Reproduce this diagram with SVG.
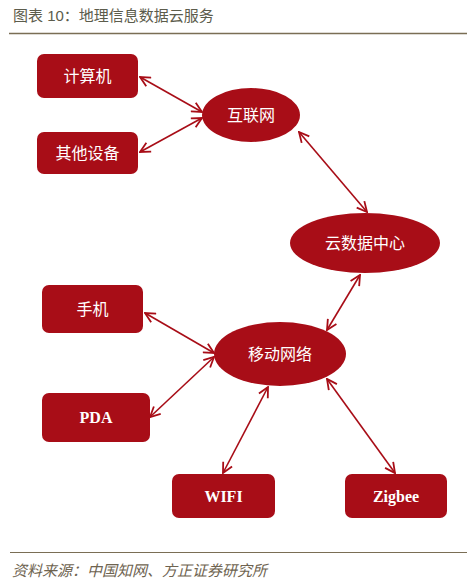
<svg xmlns="http://www.w3.org/2000/svg" width="467" height="580" viewBox="0 0 467 580">
<style>
.box{fill:#a80d17;}
.ell{fill:#a80d17;}
.cj{font-family:"Liberation Sans","Noto Sans CJK SC",sans-serif;font-size:16px;fill:#ffffff;text-anchor:middle;}
.en{font-family:"Liberation Serif",serif;font-size:16px;font-weight:bold;fill:#ffffff;text-anchor:middle;}
.con{stroke:#a80d17;stroke-width:1.6;fill:none;marker-start:url(#ah);marker-end:url(#ah);}
.title{font-family:"Liberation Sans","Noto Sans CJK SC",sans-serif;font-size:15px;fill:#5c5c4c;}
.foot{font-family:"Liberation Sans","Noto Sans CJK SC",sans-serif;font-size:15px;font-style:italic;fill:#6e6350;}
</style>
<defs>
<marker id="ah" viewBox="0 0 12 12" refX="11" refY="6" markerWidth="12" markerHeight="12" markerUnits="userSpaceOnUse" orient="auto-start-reverse">
<path d="M1,1 L11,6 L1,11" fill="none" stroke="#a80d17" stroke-width="1.8"/>
</marker>
</defs>
<rect width="467" height="580" fill="#ffffff"/>
<text class="title" x="13" y="21">图表 10：地理信息数据云服务</text>
<line x1="9" y1="33.5" x2="467" y2="33.5" stroke="#7a6e55" stroke-width="1.5"/>
<g id="connectors">
<line class="con" x1="140" y1="77" x2="202" y2="112"/>
<line class="con" x1="140" y1="152" x2="202" y2="118"/>
<line class="con" x1="299" y1="132" x2="367" y2="212"/>
<line class="con" x1="360" y1="275" x2="327" y2="330"/>
<line class="con" x1="145" y1="313" x2="214" y2="353"/>
<line class="con" x1="150" y1="417" x2="214" y2="357"/>
<line class="con" x1="268" y1="387" x2="223" y2="473"/>
<line class="con" x1="327" y1="379" x2="395" y2="473"/>
</g>
<g id="n-computer"><rect class="box" x="37" y="54" width="101" height="44" rx="7"/><text class="cj" x="87.5" y="82">计算机</text></g>
<g id="n-other"><rect class="box" x="37" y="132" width="101" height="42" rx="7"/><text class="cj" x="87.5" y="159">其他设备</text></g>
<g id="n-internet"><ellipse class="ell" cx="251" cy="115" rx="49" ry="27"/><text class="cj" x="251" y="121">互联网</text></g>
<g id="n-cloud"><ellipse class="ell" cx="365" cy="243" rx="75" ry="30"/><text class="cj" x="365" y="249">云数据中心</text></g>
<g id="n-phone"><rect class="box" x="42" y="285" width="101" height="48" rx="7"/><text class="cj" x="92.5" y="315">手机</text></g>
<g id="n-pda"><rect class="box" x="42" y="393" width="108" height="49" rx="7"/><text class="en" x="96" y="423">PDA</text></g>
<g id="n-mobile"><ellipse class="ell" cx="280" cy="354" rx="66" ry="32"/><text class="cj" x="280" y="360">移动网络</text></g>
<g id="n-wifi"><rect class="box" x="172" y="474" width="103" height="44" rx="7"/><text class="en" x="223.5" y="502">WIFI</text></g>
<g id="n-zigbee"><rect class="box" x="345" y="474" width="102" height="44" rx="7"/><text class="en" x="396" y="502">Zigbee</text></g>
<line x1="10" y1="552.5" x2="467" y2="552.5" stroke="#7a6e55" stroke-width="1.2"/>
<text class="foot" x="12" y="576">资料来源：中国知网、方正证券研究所</text>
</svg>
